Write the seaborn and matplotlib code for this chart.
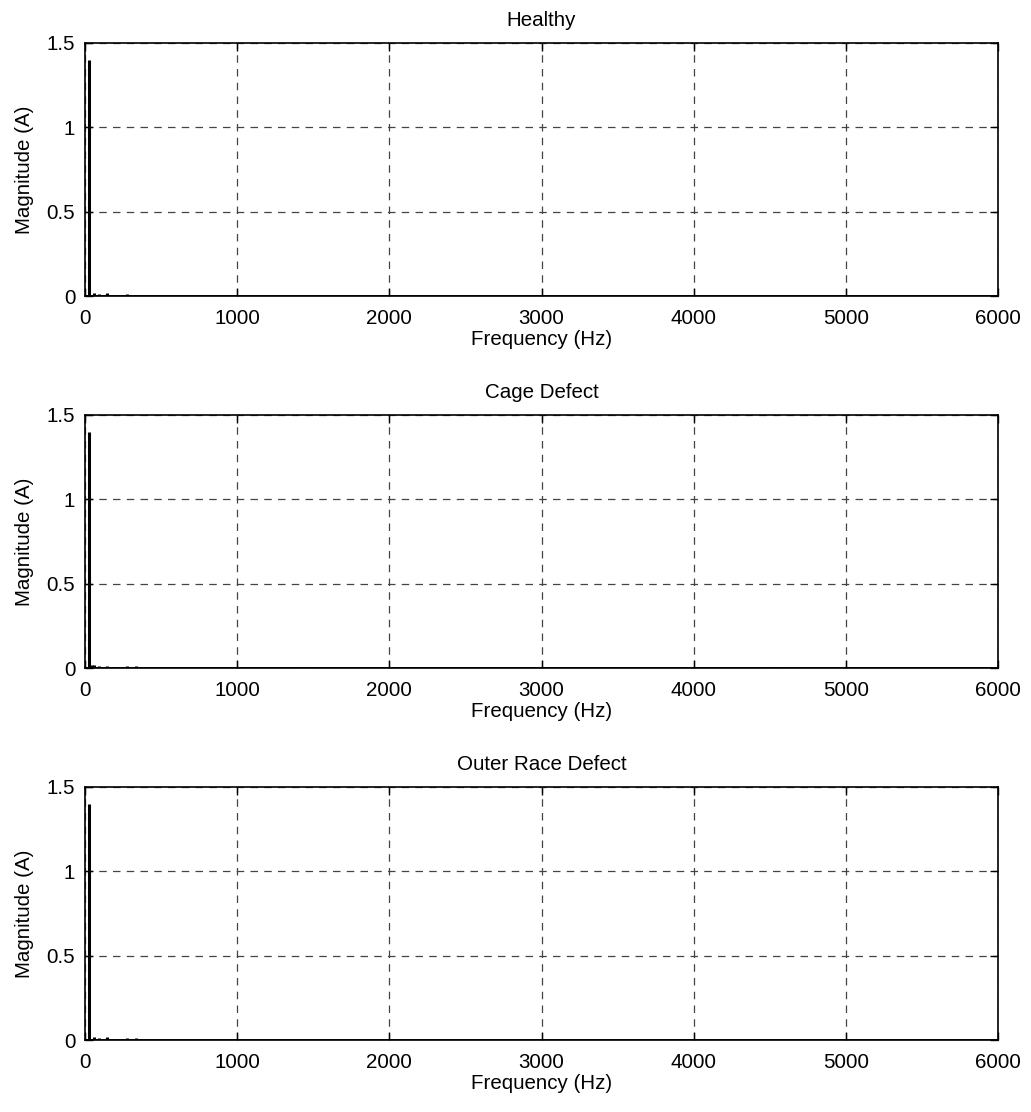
import matplotlib
matplotlib.use("Agg")
import matplotlib.pyplot as plt
import seaborn as sns
import numpy as np
import pandas as pd

titles = ["Healthy", "Cage Defect", "Outer Race Defect"]

# spectral peaks (Hz) and magnitudes (A)
healthy_freq = [25, 60, 92, 145, 276, 335, 1414, 1480, 2300, 4500, 4625, 4684, 4743, 4803]
healthy_mag = [1.40, 0.015, 0.012, 0.015, 0.010, 0.008, 0.004, 0.004, 0.003, 0.004, 0.008, 0.008, 0.004, 0.007]

cage_freq = [25, 45, 60, 92, 145, 276, 335, 1414, 1480, 4500, 4625, 4684, 4743, 4803]
cage_mag = [1.40, 0.02, 0.015, 0.012, 0.012, 0.012, 0.010, 0.004, 0.004, 0.004, 0.006, 0.008, 0.004, 0.007]

outer_freq = [25, 60, 92, 145, 276, 335, 1414, 1480, 4500, 4625, 4684, 4743, 4803]
outer_mag = [1.40, 0.015, 0.012, 0.020, 0.010, 0.010, 0.004, 0.004, 0.004, 0.006, 0.008, 0.004, 0.007]

x_ticks = [0, 1000, 2000, 3000, 4000, 5000, 6000]
y_ticks = [0, 0.5, 1, 1.5]
y_tick_labels = ["0", "0.5", "1", "1.5"]

sns.set_theme(style="white")
plt.rcParams['font.family'] = ['Liberation Sans', 'DejaVu Sans']
plt.rcParams['font.size'] = 15
plt.rcParams['text.color'] = 'black'
plt.rcParams['axes.labelcolor'] = 'black'

fig = plt.figure(figsize=(10.31, 11.12), dpi=100)
W, H = 1031, 1112
left, right = 85, 998
tops = [43, 415, 787]
bottoms = [296, 668, 1040]

datasets = [(healthy_freq, healthy_mag), (cage_freq, cage_mag), (outer_freq, outer_mag)]
FS = 14.8

for i, (title, (fr, mg)) in enumerate(zip(titles, datasets)):
    ax = fig.add_axes([left / W, 1 - bottoms[i] / H, (right - left) / W, (bottoms[i] - tops[i]) / H])
    df = pd.DataFrame({"f": fr, "m": mg})
    sns.lineplot(x=[0, 6000], y=[0, 0], ax=ax, color="black", lw=2.0)
    ax.vlines(df["f"], 0, df["m"], color="black", lw=2.2)
    ax.set_xlim(0, 6000)
    ax.set_ylim(0, 1.5)
    ax.set_xticks(x_ticks)
    ax.set_xticklabels([str(t) for t in x_ticks], fontsize=FS, color="black")
    ax.set_yticks(y_ticks)
    ax.set_yticklabels(y_tick_labels, fontsize=FS, color="black")
    ax.grid(True, linestyle=(0, (6, 5)), color="#444444", lw=0.9)
    ax.tick_params(direction="in", length=6, width=1, top=True, right=True,
                   bottom=True, left=True, colors="black")
    ax.tick_params(axis="x", pad=9)
    ax.tick_params(axis="y", pad=7)
    for s in ax.spines.values():
        s.set_color("black")
        s.set_linewidth(1.2)
    ax.set_title(title, fontsize=FS, pad=12, color="black")
    ax.set_xlabel("Frequency (Hz)", fontsize=FS, labelpad=2, color="black")
    ax.set_ylabel("Magnitude (A)", fontsize=FS, labelpad=9, color="black")

fig.savefig("out.png", dpi=100, facecolor="white")
